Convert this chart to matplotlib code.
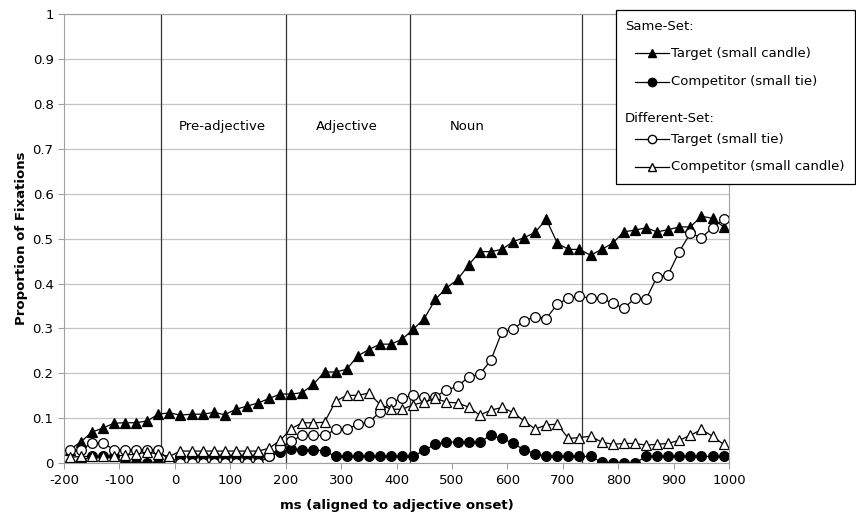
import numpy as np
import matplotlib.pyplot as plt
from matplotlib.lines import Line2D
from matplotlib.patches import Rectangle

# time bins (ms, aligned to adjective onset), 20 ms steps
ms = np.arange(-190, 1000, 20)

target_same = [0.03, 0.047, 0.069, 0.078, 0.089, 0.09, 0.09, 0.094, 0.109, 0.112,
               0.107, 0.109, 0.109, 0.113, 0.108, 0.12, 0.127, 0.134, 0.144, 0.154,
               0.154, 0.157, 0.176, 0.203, 0.203, 0.209, 0.239, 0.253, 0.265, 0.265,
               0.276, 0.298, 0.322, 0.365, 0.39, 0.409, 0.441, 0.471, 0.471, 0.476,
               0.493, 0.502, 0.514, 0.543, 0.49, 0.476, 0.476, 0.463, 0.476, 0.49,
               0.515, 0.519, 0.524, 0.515, 0.52, 0.526, 0.526, 0.55, 0.545, 0.526]
competitor_same = [0.0, 0.005, 0.015, 0.015, 0.015, 0.0, 0.0, 0.0, 0.0, 0.0,
                   0.013, 0.015, 0.015, 0.015, 0.015, 0.015, 0.015, 0.015, 0.015, 0.025,
                   0.032, 0.03, 0.03, 0.027, 0.015, 0.015, 0.015, 0.015, 0.015, 0.015,
                   0.015, 0.015, 0.029, 0.042, 0.047, 0.047, 0.047, 0.047, 0.062, 0.055,
                   0.044, 0.03, 0.021, 0.015, 0.015, 0.015, 0.015, 0.015, 0.002, 0.0,
                   0.0, 0.0, 0.015, 0.015, 0.015, 0.015, 0.015, 0.015, 0.015, 0.015]
target_diff = [0.029, 0.03, 0.044, 0.045, 0.03, 0.03, 0.03, 0.03, 0.03, 0.005,
               0.0, 0.0, 0.0, 0.0, 0.0, 0.0, 0.0, 0.0, 0.015, 0.035,
               0.049, 0.062, 0.062, 0.062, 0.075, 0.075, 0.087, 0.091, 0.114, 0.136,
               0.144, 0.152, 0.147, 0.148, 0.163, 0.171, 0.192, 0.198, 0.229, 0.292,
               0.298, 0.317, 0.326, 0.322, 0.354, 0.367, 0.372, 0.367, 0.367, 0.356,
               0.345, 0.367, 0.365, 0.415, 0.42, 0.471, 0.512, 0.502, 0.524, 0.543]
competitor_diff = [0.013, 0.015, 0.015, 0.015, 0.015, 0.018, 0.02, 0.025, 0.02, 0.015,
                   0.027, 0.027, 0.027, 0.027, 0.027, 0.027, 0.027, 0.027, 0.033, 0.051,
                   0.077, 0.09, 0.09, 0.091, 0.138, 0.151, 0.151, 0.156, 0.131, 0.12,
                   0.12, 0.13, 0.136, 0.144, 0.136, 0.134, 0.125, 0.107, 0.118, 0.124,
                   0.113, 0.094, 0.076, 0.085, 0.087, 0.055, 0.057, 0.06, 0.047, 0.042,
                   0.044, 0.044, 0.04, 0.042, 0.044, 0.051, 0.062, 0.075, 0.06, 0.042]

phase_bounds = [-25, 200, 425, 735]
phase_names = ["Pre-adjective", "Adjective", "Noun"]
phase_label_x = [85, 311, 527]

series = [
    ("Target (small candle)", target_same, "^", "black"),
    ("Competitor (small tie)", competitor_same, "o", "black"),
    ("Target (small tie)", target_diff, "o", "white"),
    ("Competitor (small candle)", competitor_diff, "^", "white"),
]

plt.rcParams["font.family"] = "DejaVu Sans"
plt.rcParams["axes.unicode_minus"] = False
fig = plt.figure(figsize=(8.56, 5.21), dpi=100)
ax = fig.add_axes([0.0748, 0.111, 0.777, 0.862])

for name, vals, mk, face in series:
    ax.plot(ms, vals, color="black", linewidth=0.9, marker=mk, markersize=7,
            markerfacecolor=face, markeredgecolor="black", markeredgewidth=0.9, label=name)

for b in phase_bounds:
    ax.axvline(b, color="#333333", linewidth=0.9, zorder=1)
for name, xp in zip(phase_names, phase_label_x):
    ax.text(xp, 0.75, name, ha="center", va="center", fontsize=9.5)

ax.set_xlim(-200, 1000)
ax.set_ylim(0, 1)
ax.set_xticks(np.arange(-200, 1001, 100))
ax.set_yticks(np.arange(0, 1.01, 0.1))
ax.yaxis.set_major_formatter(plt.FormatStrFormatter("%g"))
ax.grid(axis="y", color="#c4c4c4", linewidth=0.9, zorder=0)
ax.set_axisbelow(True)
for sp in ax.spines.values():
    sp.set_color("#a0a0a0")
ax.tick_params(colors="#a0a0a0", labelcolor="black", labelsize=9.5, length=4)
ax.set_xlabel("ms (aligned to adjective onset)", fontsize=9.5, fontweight="bold", labelpad=9)
ax.set_ylabel("Proportion of Fixations", fontsize=9.5, fontweight="bold", labelpad=3)

# legend box drawn by hand so the two group headings sit flush left
fig.patches.append(Rectangle((0.7196, 0.647), 0.279, 0.334, transform=fig.transFigure,
                             facecolor="white", edgecolor="black", linewidth=0.9, zorder=5))
rows = [("Same-Set:", None), (series[0][0], series[0]), (series[1][0], series[1]),
        ("Different-Set:", None), (series[2][0], series[2]), (series[3][0], series[3])]
row_y = [0.949, 0.898, 0.843, 0.772, 0.733, 0.680]
for (txt, s), yy in zip(rows, row_y):
    if s is None:
        fig.text(0.730, yy, txt, fontsize=9.5, va="center", zorder=6)
    else:
        fig.add_artist(Line2D([0.742, 0.781], [yy, yy], transform=fig.transFigure,
                              color="black", linewidth=0.9, zorder=6))
        fig.add_artist(Line2D([0.7615], [yy], transform=fig.transFigure, marker=s[2],
                              markersize=6, markerfacecolor=s[3], markeredgecolor="black",
                              linestyle="none", zorder=7))
        fig.text(0.784, yy, txt, fontsize=9.5, va="center", zorder=6)

fig.savefig("out.png", dpi=100)
